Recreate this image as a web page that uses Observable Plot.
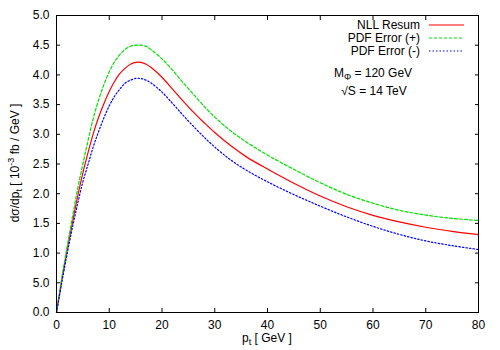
<!DOCTYPE html>
<html>
<head>
<meta charset="utf-8">
<script src="https://cdn.jsdelivr.net/npm/d3@7"></script>
<script src="https://cdn.jsdelivr.net/npm/@observablehq/plot@0.6"></script>
<style>
  html, body { margin: 0; padding: 0; background: #fff; }
  #chart { width: 500px; height: 350px; }
  svg { font-family: "Liberation Sans", Arial, sans-serif; }
</style>
</head>
<body>
<div id="chart"></div>
<script>
// ---- data ----
const pt = [0,1,2,3,4,5,6,7,8,9,10,11,12,13,14,15,16,17,18,20,22,24,26,28,30,33,36,40,45,50,55,60,65,70,75,80];
const nllResum = [0,0.55,1.05,1.5,1.95,2.35,2.7,3.02,3.29,3.52,3.72,3.89,4.02,4.11,4.18,4.21,4.21,4.18,4.12,3.96,3.76,3.56,3.37,3.195,3.03,2.81,2.62,2.415,2.175,1.96,1.78,1.635,1.525,1.435,1.365,1.31];
const pdfPlus  = [0,0.58,1.1,1.6,2.08,2.5,2.9,3.28,3.58,3.84,4.05,4.22,4.34,4.43,4.48,4.5,4.5,4.48,4.42,4.27,4.08,3.87,3.67,3.47,3.29,3.06,2.87,2.65,2.41,2.185,1.99,1.84,1.72,1.64,1.585,1.55];
const pdfMinus = [0,0.5,0.98,1.42,1.83,2.2,2.5,2.8,3.05,3.28,3.48,3.64,3.76,3.86,3.91,3.94,3.94,3.91,3.86,3.71,3.52,3.32,3.13,2.95,2.785,2.57,2.395,2.20,1.985,1.79,1.61,1.45,1.315,1.205,1.125,1.06];
const seriesNames = ["NLL Resum", "PDF Error (+)", "PDF Error (-)"];
const xTicks = [0,10,20,30,40,50,60,70,80];
const yTicks = [0,0.5,1,1.5,2,2.5,3,3.5,4,4.5,5];
const yTickLabels = ["0.0","5.0","1.0","1.5","2.0","2.5","3.0","3.5","4.0","4.5","5.0"];

const colors = ["#ff0000", "#00e000", "#0000ff"];
const dashes = [null, "3,2", "1.5,2"];
const allSeries = [nllResum, pdfPlus, pdfMinus];

const lineMarks = allSeries.map((ys, k) =>
  Plot.line(pt.map((x, i) => ({x, y: ys[i]})), {
    x: "x", y: "y", stroke: colors[k], strokeWidth: 1.2,
    strokeDasharray: dashes[k], curve: "catmull-rom"
  })
);

const chart = Plot.plot({
  width: 500, height: 350,
  marginLeft: 56, marginRight: 22, marginTop: 15, marginBottom: 38,
  style: {fontFamily: "Liberation Sans, Arial, sans-serif", fontSize: "12px", color: "#000", background: "#fff"},
  x: {domain: [0, 80]},
  y: {domain: [0, 5]},
  marks: [
    ...lineMarks,
    Plot.axisX(xTicks, {anchor: "bottom", tickSize: -4, tickFormat: () => "", label: null, stroke: "#000"}),
    Plot.axisX(xTicks, {anchor: "top", tickSize: -4, tickFormat: () => "", label: null, stroke: "#000"}),
    Plot.axisY(yTicks, {anchor: "left", tickSize: -4, tickFormat: () => "", label: null, stroke: "#000"}),
    Plot.axisY(yTicks, {anchor: "right", tickSize: -4, tickFormat: () => "", label: null, stroke: "#000"}),
    Plot.axisX(xTicks, {anchor: "bottom", tickSize: 0, tickPadding: 8, label: null, fill: "#000", fontSize: 12}),
    Plot.axisY(yTicks, {anchor: "left", tickSize: 0, tickPadding: 7, label: null, fill: "#000", fontSize: 12,
      tickFormat: (d) => yTickLabels[yTicks.indexOf(d)]}),
    Plot.frame({stroke: "#000", strokeWidth: 1})
  ]
});

document.getElementById("chart").appendChild(chart);

// ---- labels, legend, annotations ----
const svg = d3.select(chart);
const font = "Liberation Sans, Arial, sans-serif";

// x label
const xl = svg.append("text").attr("x", 267).attr("y", 342).attr("text-anchor", "middle")
  .attr("font-family", font).attr("font-size", 12).attr("fill", "#000");
xl.append("tspan").text("p");
xl.append("tspan").attr("font-size", 9).attr("dy", 3).text("t");
xl.append("tspan").attr("dy", -3).text(" [ GeV ]");

// y label
const yl = svg.append("text").attr("transform", "translate(19,163) rotate(-90)").attr("text-anchor", "middle")
  .attr("font-family", font).attr("font-size", 12).attr("fill", "#000");
yl.append("tspan").text("dσ/dp");
yl.append("tspan").attr("font-size", 9).attr("dy", 3).text("t");
yl.append("tspan").attr("dy", -3).text(" [ 10");
yl.append("tspan").attr("font-size", 9).attr("dy", -5).text("-3");
yl.append("tspan").attr("dy", 5).text(" fb / GeV ]");

// legend
const legY = [25, 38, 51];
seriesNames.forEach((name, k) => {
  svg.append("text").attr("x", 420).attr("y", legY[k] + 4).attr("text-anchor", "end")
    .attr("font-family", font).attr("font-size", 12).attr("fill", "#000").text(name);
  svg.append("line").attr("x1", 429).attr("x2", 464).attr("y1", legY[k]).attr("y2", legY[k])
    .attr("stroke", colors[k]).attr("stroke-width", 1.2)
    .attr("stroke-dasharray", dashes[k]);
});

// annotations
const a1 = svg.append("text").attr("x", 373).attr("y", 77)
  .attr("font-family", font).attr("font-size", 12).attr("fill", "#000");
a1.append("tspan").text("M");
a1.append("tspan").attr("font-size", 9).attr("dy", 3).text("Φ");
a1.append("tspan").attr("dy", -3).text(" = 120 GeV");

svg.append("text").attr("x", 374).attr("y", 95)
  .attr("font-family", font).attr("font-size", 12).attr("fill", "#000").text("√S = 14 TeV");
</script>
</body>
</html>
